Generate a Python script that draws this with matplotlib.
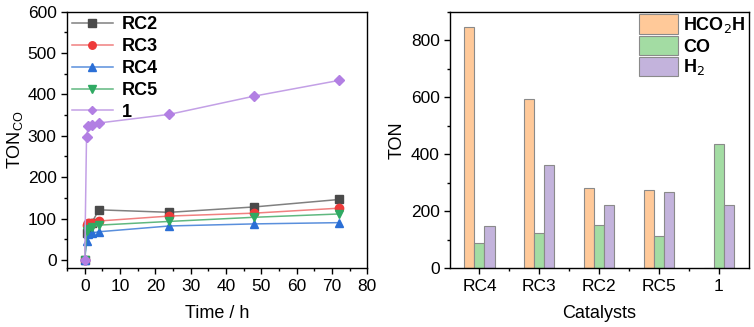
import numpy as np
import matplotlib.pyplot as plt
from matplotlib.ticker import MultipleLocator

plt.rcParams['font.family'] = ['Liberation Sans', 'DejaVu Sans']

# Données : TON_CO en fonction du temps
time_h = [0, 0.5, 1, 2, 4, 24, 48, 72]
ton_rc2 = [0, 65, 85, 90, 121, 115, 128, 146]
ton_rc3 = [0, 85, 88, 90, 94, 106, 113, 125]
ton_rc4 = [0, 45, 62, 65, 68, 82, 87, 90]
ton_rc5 = [0, 70, 75, 80, 84, 93, 103, 111]
ton_1 = [0, 298, 323, 327, 331, 352, 396, 434]

# Données : TON par catalyseur
catalysts = ['RC4', 'RC3', 'RC2', 'RC5', '1']
ton_hcooh = [845, 593, 280, 275, 0]
ton_co = [87, 125, 150, 113, 435]
ton_h2 = [148, 362, 223, 266, 220]

fig = plt.figure(figsize=(7.54, 3.27), dpi=100)
ax1 = fig.add_axes([0.089, 0.180, 0.398, 0.784])
ax2 = fig.add_axes([0.597, 0.180, 0.396, 0.784])

series = [
    ('RC2', ton_rc2, 's', '#4a4a4a', '#808080'),
    ('RC3', ton_rc3, 'o', '#ee3a3a', '#f08080'),
    ('RC4', ton_rc4, '^', '#2b6fd6', '#5a8fdc'),
    ('RC5', ton_rc5, 'v', '#2faa63', '#60b880'),
    ('1', ton_1, 'D', '#b27fe3', '#c3a0e6'),
]
for label, y, m, mc, lc in series:
    ax1.plot(time_h, y, '-', color=lc, lw=1.1, marker=m, ms=6 if m != 'D' else 5,
             mfc=mc, mec=mc, label=label)

ax1.set_xlim(-5, 80)
ax1.set_ylim(-20, 600)
ax1.xaxis.set_major_locator(MultipleLocator(10))
ax1.xaxis.set_minor_locator(MultipleLocator(5))
ax1.yaxis.set_major_locator(MultipleLocator(100))
ax1.yaxis.set_minor_locator(MultipleLocator(50))
ax1.set_xlabel('Time / h', fontsize=13, labelpad=8)
ax1.set_ylabel('TON$_{\\mathregular{CO}}$', fontsize=13, labelpad=2)
ax1.legend(loc='upper left', frameon=False, prop={'weight': 'bold', 'size': 13},
           handlelength=2.3, borderaxespad=0.05, borderpad=0.2, labelspacing=0.27,
           handletextpad=0.5, markerscale=0.9)

x = np.arange(len(catalysts))
w = 0.168
ax2.bar(x - w, ton_hcooh, w, color='#ffc999', edgecolor='#8a8a8a', lw=0.8, label='HCO$_2$H')
ax2.bar(x, ton_co, w, color='#a3dca3', edgecolor='#8a8a8a', lw=0.8, label='CO')
ax2.bar(x + w, ton_h2, w, color='#c3b3dc', edgecolor='#8a8a8a', lw=0.8, label='H$_2$')
ax2.set_xlim(-0.49, 4.5)
ax2.set_ylim(0, 900)
ax2.set_xticks(x)
ax2.set_xticklabels(catalysts)
ax2.set_xticks(x[:-1] + 0.5, minor=True)
ax2.yaxis.set_major_locator(MultipleLocator(200))
ax2.yaxis.set_minor_locator(MultipleLocator(100))
ax2.set_xlabel('Catalysts', fontsize=13, labelpad=8)
ax2.set_ylabel('TON', fontsize=13)
ax2.legend(loc='upper right', frameon=False, prop={'weight': 'bold', 'size': 13},
           handlelength=2.15, handleheight=1.25, borderaxespad=0.0, borderpad=0.15,
           labelspacing=0.05, handletextpad=0.3)

for ax in (ax1, ax2):
    ax.tick_params(which='major', direction='out', length=4, width=1, labelsize=12.5)
    ax.tick_params(which='minor', direction='out', length=2.5, width=1)
    for s in ax.spines.values():
        s.set_linewidth(1)

plt.savefig('out.png', dpi=100)
